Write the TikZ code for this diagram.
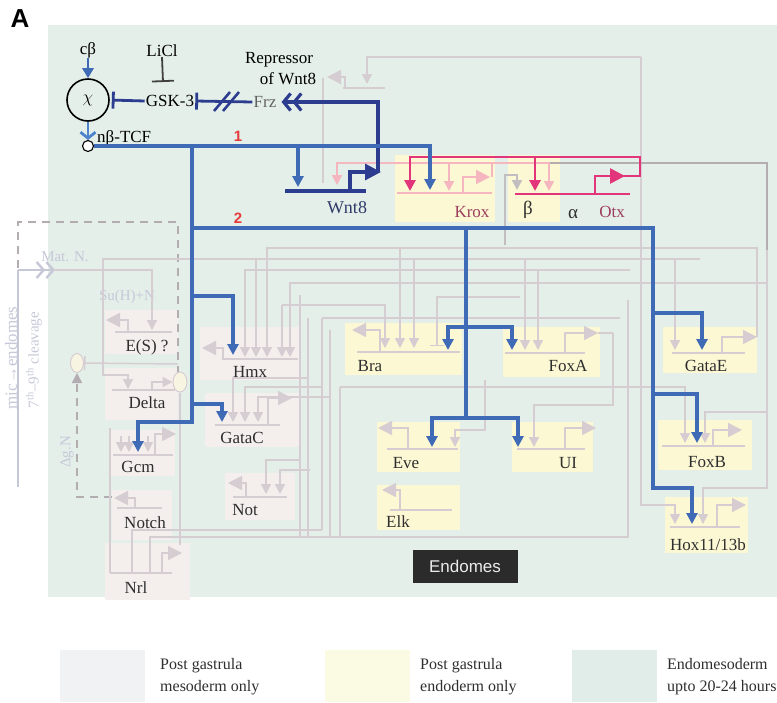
\documentclass[tikz,border=0pt]{standalone}
\usepackage{fontspec}
\setmainfont{Liberation Serif}
\newfontfamily\sansfont{Liberation Sans}
\usepackage{tikz}
\usetikzlibrary{arrows.meta,positioning,shapes.geometric}

\definecolor{panelbg}{HTML}{E4EFEA}
\definecolor{endoY}{HTML}{FCF8D4}
\definecolor{mesoP}{HTML}{F4EEEC}
\definecolor{wirec}{HTML}{D6CDD2}
\definecolor{regblue}{HTML}{3F6AB5}
\definecolor{navy}{HTML}{2C3D8F}
\definecolor{lblue}{HTML}{4F84CC}
\definecolor{pinkc}{HTML}{E2357A}
\definecolor{lpink}{HTML}{F5B6C0}
\definecolor{midgray}{HTML}{B3ADB2}
\definecolor{kroxtxt}{HTML}{9C3D5E}
\definecolor{annot}{HTML}{C6C8D8}
\definecolor{redlab}{HTML}{E63A3A}
\definecolor{legA}{HTML}{F0F2F4}
\definecolor{legB}{HTML}{FBFAE3}
\definecolor{legC}{HTML}{E0EDE8}
\definecolor{palefill}{HTML}{F8F4E2}
\definecolor{labtxt}{HTML}{2E2E2E}
\definecolor{wnttxt}{HTML}{2F3A6A}

\tikzset{
  genelab/.style={font=\fontsize{17}{19}\selectfont, text=labtxt, inner sep=0pt},
  faintlab/.style={font=\fontsize{15}{17}\selectfont, text=annot, inner sep=0pt},
  endobox/.style={fill=endoY, inner sep=0pt},
  mesobox/.style={fill=mesoP, inner sep=0pt},
  bluew/.style={draw=regblue, line width=3.3pt},
  bluearr/.style={bluew, -{Triangle[length=11pt,width=11pt]}},
  navyw/.style={draw=navy, line width=3.2pt},
  pinkarr/.style={draw=pinkc, line width=2.7pt, -{Triangle[length=11pt,width=11pt]}},
  lpinkarr/.style={draw=lpink, line width=2pt, -{Triangle[length=10pt,width=10pt]}},
  wire/.style={draw=wirec, line width=1.5pt},
  wirearr/.style={wire, -{Triangle[length=10pt,width=10pt]}},
  wireprom/.style={wire, -{Triangle[length=14pt,width=14pt]}},
  genebar/.style={draw=wirec, line width=1.5pt},
  legtext/.style={font=\fontsize{16}{22}\selectfont, text=labtxt, align=left, anchor=west, inner sep=0pt},
}

\begin{document}
\begin{tikzpicture}[x=1pt, y=-1pt]
\useasboundingbox (0,0) rectangle (777,702);
% Panel and panel letter:
\fill[panelbg] (48,25) rectangle (777,597);
\node[font=\sansfont\bfseries\fontsize{26}{28}\selectfont, inner sep=0pt] (panelA) at (20,19) {A};

% Boxes of the genes:
\node[mesobox, minimum width=73pt, minimum height=44pt] (esbox) at (141.5,332) {};
\node[mesobox, minimum width=73pt, minimum height=52pt] (deltabox) at (141.5,394) {};
\node[mesobox, minimum width=100pt, minimum height=53pt] (hmxbox) at (250,353.5) {};
\node[mesobox, minimum width=95pt, minimum height=54pt] (gatacbox) at (252.5,420) {};
\node[mesobox, minimum width=65pt, minimum height=46pt] (gcmbox) at (142.5,453) {};
\node[mesobox, minimum width=60pt, minimum height=50pt] (notchbox) at (142,515) {};
\node[mesobox, minimum width=85pt, minimum height=57pt] (nrlbox) at (147.5,571.5) {};
\node[mesobox, minimum width=70pt, minimum height=47pt] (notbox) at (260,496.5) {};
\node[endobox, minimum width=100pt, minimum height=67pt] (kroxbox) at (445,188.5) {};
\node[endobox, minimum width=52pt, minimum height=67pt] (betabox) at (534,188.5) {};
\node[endobox, minimum width=117pt, minimum height=52pt] (brabox) at (403.5,349) {};
\node[endobox, minimum width=97pt, minimum height=50pt] (foxabox) at (551.5,352) {};
\node[endobox, minimum width=94pt, minimum height=46pt] (gataebox) at (710,350) {};
\node[endobox, minimum width=83pt, minimum height=50pt] (evebox) at (418.5,447) {};
\node[endobox, minimum width=81pt, minimum height=50pt] (uibox) at (552.5,447) {};
\node[endobox, minimum width=83pt, minimum height=45pt] (elkbox) at (418.5,507.5) {};
\node[endobox, minimum width=94pt, minimum height=50pt] (foxbbox) at (705,445) {};
\node[endobox, minimum width=83pt, minimum height=56pt] (hoxbox) at (706.5,525) {};

% Maternal Notch input and the left notes:
\draw[draw=midgray, line width=1.7pt, dash pattern=on 8pt off 6pt] (178,374) -- (178,222) -- (18,222) -- (18,270);
\draw[draw=annot, line width=1.5pt] (18,270) -- (18,487);
\draw[draw=annot, line width=2.4pt, -{Straight Barb[length=7pt,width=16pt] Straight Barb[length=7pt,width=16pt]}] (18,270) -- (55,270);
\node[faintlab, rotate=90, font=\fontsize{17}{19}\selectfont] (micnote) at (11,358) {mic→endomes};
\node[faintlab, rotate=90, font=\fontsize{15}{17}\selectfont] (cleavnote) at (34,360) {7\textsuperscript{th}–9\textsuperscript{th} cleavage};
\node[faintlab] (matn) at (65,257) {Mat. N.};
\node[faintlab] (suhn) at (127,297) {Su(H)+N};
\node[faintlab, rotate=90] (dgn) at (67,452) {Δg.N};
\node[ellipse, draw=wirec, fill=palefill, line width=1pt, minimum width=13pt, minimum height=19pt, inner sep=0pt] (nsig) at (77,363) {};
\node[ellipse, draw=wirec, fill=palefill, line width=1pt, minimum width=14pt, minimum height=20pt, inner sep=0pt] (dsig) at (180,382) {};
\draw[wire, -{Bar[width=14pt]}] (178,364) -- (nsig.east);
\draw[draw=midgray, line width=1.7pt, dash pattern=on 8pt off 6pt, -{Triangle[length=10pt,width=10pt]}] (112,497) -- (77,497) -- (nsig.south);

% Faint wiring of the network:
\draw[wirearr] (53,270) -| (152,330);
\draw[wirearr] (700,259) -- (103,259) |- (128,375) -- (128,389);
\draw[wirearr] (757,337) -- (757,248) -- (267,248) -- (267,357);
\draw[wirearr] (400,248) -- (400,348);
\draw[wirearr] (256,259) -- (256,357);
\draw[wirearr] (414,259) -- (414,348);
\draw[wirearr] (525,259) -- (525,350);
\draw[wirearr] (675,259) -- (675,350);
\draw[wirearr] (630,270) -| (245,357);
\draw[wirearr] (538,270) -- (538,350);
\draw[wirearr] (768,283) -| (290,357);
\draw[wirearr] (282,305) -- (282,357);
\draw[wirearr] (282,305) -| (385,348);
\draw[wire, -{Bar[width=14pt]}] (520,297) -| (437,346);
\draw[wire] (300,295) -- (300,537);
\draw[wire] (308,318) -- (308,537);
\draw[wire] (322,318) -- (620,318);
\draw[wire] (322,318) -- (322,530);
\draw[wire] (330,330) -- (330,537);
\draw[wire] (340,387) -- (628,387);
\draw[wire] (340,387) -- (340,537);
\draw[wirearr] (308,378) -| (233,422);
\draw[wirearr] (323,387) -| (245,422);
\draw[wirearr] (330,397) -| (258,422);
\draw[wirearr] (300,460) -| (266,494);
\draw[wirearr] (310,470) -| (280,494);
\draw[wire] (628,300) -- (628,537) -- (150,537) -- (150,573);
\draw[wire] (322,530) -- (132,530) -- (132,573);
\draw[wire] (110,428) -- (110,573);
\draw[wire] (dsig.south) -- (180,545);
\draw[wirearr] (121,436) -- (121,452);
\draw[wirearr] (129,436) -- (129,452);
\draw[wirearr] (148,436) -- (148,452);
\draw[wirearr] (485,380) |- (455,430) -- (455,447);
\draw[wirearr] (613,333) -- (613,405) -| (534,447);
\draw[wirearr] (600,387) -| (685,443);
\draw[wirearr] (641,57) |- (675,505) -- (675,524);
\draw[wirearr] (641,57) -- (367,57) -- (367,84);
\draw[draw=midgray, line width=1.7pt] (549,163) -- (767,163) -- (767,250);
\draw[wirearr] (767,250) |- (703,488) -- (703,524);
\draw[wirearr] (767,412) -| (705,443);
\draw[draw=midgray!80, line width=1.7pt, -{Triangle[length=10pt,width=10pt]}] (505,245) |- (517,175) -- (517,190);
\draw[wire] (323,78) -- (323,183);
\draw[wire] (343,88) -- (385,88);
\draw[wireprom] (345,88) |- (327,77);

% Gene lines and their outputs:
\draw[genebar] (115,332) -- (172,332);
\draw[wireprom] (128,332) |- (106,320);
\draw[genebar] (112,390) -- (175,390);
\draw[wire, -{Triangle[length=10pt,width=10pt]}] (152,390) |- (dsig.west);
\draw[genebar] (222,359) -- (298,359);
\draw[wireprom] (223,359) |- (202,348);
\draw[genebar] (215,425) -- (280,425);
\draw[wireprom] (268,425) |- (292,398);
\draw[genebar] (113,455) -- (173,455);
\draw[wireprom] (155,455) |- (176,434);
\draw[genebar] (117,508) -- (162,508);
\draw[wireprom] (135,508) |- (114,498);
\draw[genebar] (110,573) -- (172,573);
\draw[wireprom] (162,573) |- (182,553);
\draw[genebar] (233,497) -- (287,497);
\draw[wireprom] (246,497) |- (228,483);
\draw[genebar] (357,352) -- (460,352);
\draw[wireprom] (380,352) |- (352,330);
\draw[genebar] (505,353) -- (585,353);
\draw[wireprom] (565,353) |- (598,333);
\draw[wire] (598,333) -- (613,333);
\draw[genebar] (672,353) -- (745,353);
\draw[wireprom] (722,353) |- (757,337);
\draw[genebar] (387,449) -- (458,449);
\draw[wireprom] (408,449) |- (378,428);
\draw[genebar] (517,449) -- (585,449);
\draw[wireprom] (565,449) |- (596,428);
\draw[genebar] (390,510) -- (452,510);
\draw[wireprom] (400,510) |- (382,490);
\draw[genebar] (662,446) -- (745,446);
\draw[wireprom] (713,446) |- (742,430);
\draw[genebar] (670,527) -- (740,527);
\draw[wireprom] (717,527) |- (746,505);

% Krox and Otx loops:
\draw[draw=lpink, line width=2pt] (397,193) -- (492,193);
\draw[draw=lpink, line width=2pt, -{Triangle[length=14pt,width=14pt]}] (463,193) |- (490,177);
\draw[lpinkarr] (492,177) -- (492,163) -- (337,163) -- (337,185);
\draw[lpinkarr] (449,163) -- (449,191);
\draw[lpinkarr] (492,163) -- (549,163) -- (549,191);
\draw[draw=pinkc, line width=2.7pt] (515,194) -- (630,194);
\draw[draw=pinkc, line width=2.7pt, -{Triangle[length=15pt,width=15pt]}] (595,194) |- (625,176);
\draw[pinkarr] (623,176) -- (640,176) -- (640,157) -- (410,157) -- (410,191);
\draw[pinkarr] (535,157) -- (535,191);

% Beta-catenin input:
\node[font=\fontsize{17}{19}\selectfont, inner sep=0pt] (cb) at (88,50) {cβ};
\node[circle, draw=black, line width=1.6pt, minimum size=42pt, inner sep=0pt, font=\fontsize{17}{19}\selectfont] (chi) at (88,100) {$\chi$};
\node[circle, draw=black, fill=white, line width=1.1pt, minimum size=11pt, inner sep=0pt] (tcf) at (88,146) {};
\node[font=\fontsize{17}{19}\selectfont, anchor=base west, inner sep=0pt] (tcflab) at (97,142) {nβ-TCF};
\draw[draw=regblue, line width=2.8pt, -{Triangle[length=10pt,width=11pt]}] (cb.south) -- (chi.north);
\draw[draw=lblue, line width=2.8pt, -{Straight Barb[length=6pt,width=15pt]}] (chi.south) -- (tcf.north);
\node[font=\fontsize{17}{19}\selectfont, inner sep=0pt] (licl) at (162,51) {LiCl};
\node[font=\fontsize{17}{19}\selectfont, inner sep=1pt] (gsk) at (170,101) {GSK-3};
\node[font=\fontsize{17}{19}\selectfont, text=labtxt!75, inner sep=1pt] (frz) at (265,102) {Frz};
\node[font=\fontsize{17}{19}\selectfont, inner sep=0pt] (rep) at (279,60) {Repressor};
\node[font=\fontsize{17}{19}\selectfont, inner sep=0pt] (ofwnt) at (288,79) {of Wnt8};
\draw[draw=black!75, line width=1.8pt, -{Bar[width=22pt]}] (licl.south) -- (163,82);
\draw[navyw, line width=2.8pt, -{Bar[width=17pt]}, shorten >=2pt] (gsk.west) -- (chi.east);
\draw[navyw, line width=2.8pt, -{Bar[width=17pt]}] (frz.west) -- (gsk.east);
\draw[navyw, line width=2.6pt] (214,111) -- (230,92) (223,111) -- (239,92);

% Wnt8 and the two TCF routes:
\draw[navyw] (285,191) -- (366,191);
\draw[navyw, -{Triangle[length=16pt,width=16pt]}] (350,191) |- (381,172);
\draw[navyw, -{Straight Barb[length=7pt,width=17pt] Straight Barb[length=7pt,width=17pt]}, shorten >=4pt] (378,172) |- (frz.east);
\node[font=\fontsize{18}{20}\selectfont, text=wnttxt, inner sep=0pt] (wnt) at (347,208) {Wnt8};
\draw[bluearr] (tcf.east) -| (430,190);
\draw[bluearr] (298,146) -- (298,187);
\draw[bluearr] (192,146) |- (138,422) -- (138,452);
\draw[bluearr] (192,296) -| (233,355);
\draw[bluearr] (192,404) -| (222,422);
\draw[bluearr] (192,228) -| (653,488) -| (692,524);
\draw[bluew] (466,228) -- (466,418);
\draw[bluearr] (466,327) -| (448,350);
\draw[bluearr] (466,327) -| (512,350);
\draw[bluearr] (466,418) -| (432,447);
\draw[bluearr] (466,418) -| (518,447);
\draw[bluearr] (653,313) -| (702,350);
\draw[bluearr] (653,394) -| (697,443);
\node[font=\sansfont\bfseries\fontsize{15}{17}\selectfont, text=redlab, inner sep=0pt] (route1) at (238,136) {1};
\node[font=\sansfont\bfseries\fontsize{15}{17}\selectfont, text=redlab, inner sep=0pt] (route2) at (238,218) {2};

% Gene names:
\node[genelab, text=kroxtxt] (krox) at (472,212) {Krox};
\node[genelab, font=\fontsize{19}{21}\selectfont] (beta) at (528,210) {β};
\node[genelab, font=\fontsize{19}{21}\selectfont] (alpha) at (573,214) {α};
\node[genelab, text=kroxtxt] (otx) at (612,212) {Otx};
\node[genelab] (es) at (147,347) {E(S) ?};
\node[genelab] (delta) at (147,403) {Delta};
\node[genelab] (hmx) at (250,372) {Hmx};
\node[genelab] (gatac) at (242,438) {GataC};
\node[genelab] (gcm) at (138,467) {Gcm};
\node[genelab] (notch) at (145,523) {Notch};
\node[genelab] (nrl) at (136,588) {Nrl};
\node[genelab] (nott) at (245,510) {Not};
\node[genelab] (bra) at (370,366) {Bra};
\node[genelab] (foxa) at (568,366) {FoxA};
\node[genelab] (gatae) at (706,366) {GataE};
\node[genelab] (eve) at (406,463) {Eve};
\node[genelab] (ui) at (568,463) {UI};
\node[genelab] (elk) at (398,522) {Elk};
\node[genelab] (foxb) at (707,462) {FoxB};
\node[genelab] (hox) at (708,545) {Hox11/13b};
\node[fill=black!83, text=black!8, font=\sansfont\fontsize{17}{19}\selectfont, minimum width=105pt, minimum height=33pt, inner sep=0pt] (endomes) at (465,566) {Endomes};

% Legend:
\node[fill=legA, minimum width=85pt, minimum height=52pt, inner sep=0pt] (legmeso) at (102.5,676) {};
\node[legtext] (legmesot) at (160,677) {Post gastrula\\mesoderm only};
\node[fill=legB, minimum width=85pt, minimum height=52pt, inner sep=0pt] (legendo) at (367.5,676) {};
\node[legtext] (legendot) at (420,677) {Post gastrula\\endoderm only};
\node[fill=legC, minimum width=85pt, minimum height=52pt, inner sep=0pt] (legem) at (614.5,676) {};
\node[legtext] (legemt) at (667,677) {Endomesoderm\\upto 20-24 hours};
\end{tikzpicture}
\end{document}
